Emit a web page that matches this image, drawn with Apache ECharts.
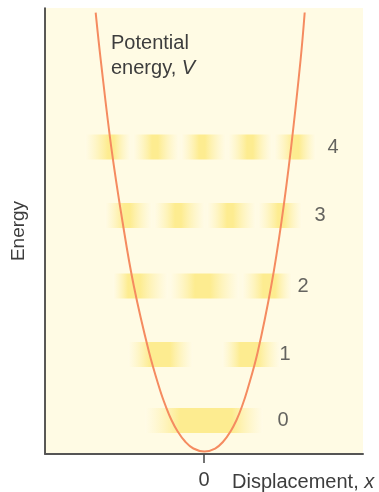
<!DOCTYPE html>
<html>
<head>
<meta charset="utf-8">
<script src="https://cdn.jsdelivr.net/npm/echarts@6/dist/echarts.min.js"></script>
<style>
html,body{margin:0;padding:0;background:#ffffff;}
#chart{width:379px;height:492px;}
</style>
</head>
<body>
<div id="chart"></div>
<script>
// ---- data ----
// Potential energy curve V(x)
const potentialX = [-1.022, -0.974, -0.875, -0.769, -0.662, -0.520, -0.415, -0.360, -0.307, -0.248, -0.178, -0.100, 0.003, 0.105, 0.182, 0.250, 0.307, 0.358, 0.409, 0.508, 0.634, 0.731, 0.822, 0.911, 0.950];
const potentialV = [6.434, 5.742, 4.474, 3.388, 2.448, 1.494, 0.933, 0.692, 0.496, 0.328, 0.182, 0.080, 0.036, 0.080, 0.182, 0.328, 0.496, 0.692, 0.933, 1.494, 2.448, 3.388, 4.474, 5.742, 6.434];

// Vibrational levels
const levelNumbers = ['0', '1', '2', '3', '4'];
const levelEnergies = [0.488, 1.450, 2.448, 3.476, 4.474];
const levelLabelX = [0.745, 0.764, 0.934, 1.094, 1.217];

// Probability-density segments per level: [xStart, xEnd, peakStart, peakEnd]
const level0Segments = [[-0.557, 0.557, -0.226, 0.264]];
const level1Segments = [[-0.717, -0.104, -0.509, -0.321], [0.170, 0.717, 0.340, 0.509]];
const level2Segments = [[-0.858, -0.340, -0.717, -0.604], [-0.321, 0.330, -0.085, 0.057], [0.358, 0.830, 0.557, 0.670]];
const level3Segments = [[-0.934, -0.491, -0.755, -0.698], [-0.472, 0.009, -0.274, -0.217], [0.028, 0.491, 0.217, 0.274], [0.509, 0.925, 0.698, 0.755]];
const level4Segments = [[-1.123, -0.689, -0.906, -0.849], [-0.670, -0.236, -0.491, -0.434], [-0.217, 0.208, -0.047, 0.009], [0.226, 0.642, 0.406, 0.462], [0.660, 1.057, 0.840, 0.896]];

const xTickValues = [0];
const xTickLabels = ['0'];

// ---- build ----
const allSegments = [level0Segments, level1Segments, level2Segments, level3Segments, level4Segments];
const bandData = [];
allSegments.forEach(function (segs, i) {
  segs.forEach(function (s) { bandData.push([s[0], s[1], s[2], s[3], levelEnergies[i]]); });
});
const curveData = potentialX.map(function (x, i) { return [x, potentialV[i]]; });
const labelData = levelNumbers.map(function (n, i) { return { value: [levelLabelX[i], levelEnergies[i]], name: n }; });

const TEXT = '#3d3d3d';
const FONT = 'Liberation Sans, Arial, Helvetica, sans-serif';
const PEAK = '#FDEC90';
const EDGE = 'rgba(255,251,232,0.6)';

function renderBand(params, api) {
  const x0 = api.value(0), x1 = api.value(1), pA = api.value(2), pB = api.value(3), e = api.value(4);
  const pl = api.coord([x0, e]);
  const pr = api.coord([x1, e]);
  const h = 25;
  const a = (pA - x0) / (x1 - x0);
  const b = (pB - x0) / (x1 - x0);
  return {
    type: 'rect',
    shape: { x: pl[0], y: pl[1] - h / 2, width: pr[0] - pl[0], height: h },
    style: {
      fill: new echarts.graphic.LinearGradient(0, 0, 1, 0, [
        { offset: 0, color: EDGE },
        { offset: a, color: PEAK },
        { offset: b, color: PEAK },
        { offset: 1, color: EDGE }
      ])
    }
  };
}

const chart = echarts.init(document.getElementById('chart'), null, { renderer: 'canvas' });
chart.setOption({
  animation: false,
  backgroundColor: '#ffffff',
  textStyle: { fontFamily: FONT },
  grid: { left: 45, right: 16, top: 8, bottom: 38, show: true, backgroundColor: '#FFFBE4', borderWidth: 0 },
  xAxis: {
    type: 'value', min: -1.5, max: 1.5, interval: 1.5,
    axisLine: { show: true, lineStyle: { color: '#555555', width: 2 } },
    axisTick: { show: true, length: 9, customValues: xTickValues, lineStyle: { color: '#444444', width: 1.5 } },
    axisLabel: { show: true, customValues: xTickValues, margin: 16, fontSize: 20, color: TEXT, fontFamily: FONT,
      formatter: function (v) { const i = xTickValues.indexOf(v); return i >= 0 ? xTickLabels[i] : ''; } },
    splitLine: { show: false }
  },
  yAxis: {
    type: 'value', min: 0, max: 6.5,
    name: 'Energy', nameLocation: 'middle', nameGap: 17, nameRotate: 90,
    nameTextStyle: { fontSize: 19, color: TEXT, fontFamily: FONT },
    axisLine: { show: true, onZero: false, lineStyle: { color: '#222222', width: 1.5 } },
    axisTick: { show: false }, axisLabel: { show: false }, splitLine: { show: false }
  },
  graphic: [
    {
      type: 'text', left: 111, top: 31, z: 10,
      style: {
        text: 'Potential\nenergy, {i|V}', fill: TEXT, font: '20px ' + FONT, lineHeight: 25,
        rich: { i: { fontStyle: 'italic', fontSize: 20, fontFamily: FONT, fill: TEXT, lineHeight: 25 } }
      }
    },
    {
      type: 'text', x: 232, y: 482, z: 10,
      style: {
        text: 'Displacement, {i|x}', fill: TEXT, font: '20px ' + FONT, verticalAlign: 'middle',
        rich: { i: { fontStyle: 'italic', fontSize: 20, fontFamily: FONT, fill: TEXT } }
      }
    }
  ],
  series: [
    { type: 'custom', renderItem: renderBand, data: bandData, encode: { x: [0, 1], y: 4 }, z: 1, silent: true },
    { type: 'line', data: curveData, showSymbol: false, smooth: 0.4, z: 3,
      lineStyle: { color: '#F58B60', width: 2 } },
    { type: 'scatter', data: labelData, symbolSize: 0, z: 4,
      label: { show: true, position: 'inside', formatter: '{b}', fontSize: 20, color: TEXT, fontFamily: FONT } }
  ]
});
</script>
</body>
</html>
